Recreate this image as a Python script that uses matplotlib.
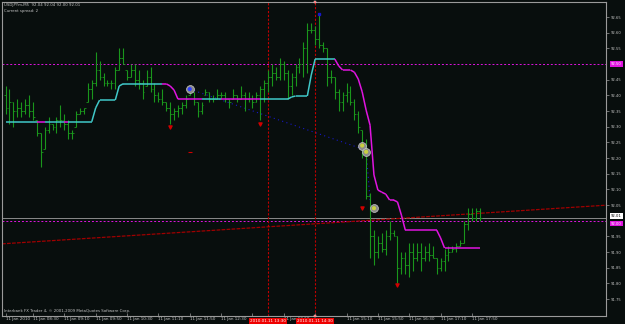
import numpy as np
import matplotlib
matplotlib.use("Agg")
import matplotlib.pyplot as plt
from matplotlib.collections import LineCollection
import matplotlib.transforms as mtransforms

# header / footer texts
symbol_line = "USDJPYm,M5  92.04 92.04 92.00 92.01"
spread_line = "Current spread: 2"
footer_line = "Interbank FX Trader 4, © 2001-2009 MetaQuotes Software Corp."

# M5 bars, 07:55 .. 18:00 (bar index 0..121)
highs = [92.43, 92.42, 92.38, 92.39, 92.38, 92.39, 92.40, 92.38, 92.32, 92.28,
         92.30, 92.33, 92.31, 92.33, 92.37, 92.34, 92.32, 92.29, 92.35, 92.36,
         92.36, 92.44, 92.45, 92.54, 92.51, 92.47, 92.45, 92.45, 92.49, 92.55,
         92.55, 92.48, 92.50, 92.50, 92.48, 92.45, 92.48, 92.49, 92.44, 92.41,
         92.42, 92.38, 92.38, 92.36, 92.37, 92.38, 92.40, 92.43, 92.41, 92.38,
         92.38, 92.42, 92.41, 92.40, 92.42, 92.41, 92.41, 92.39, 92.42, 92.40,
         92.43, 92.41, 92.41, 92.40, 92.41, 92.43, 92.45, 92.48, 92.50, 92.49,
         92.52, 92.51, 92.48, 92.47, 92.50, 92.52, 92.57, 92.63, 92.63, 92.62,
         92.66, 92.57, 92.55, 92.48, 92.46, 92.42, 92.41, 92.44, 92.43, 92.39,
         92.35, 92.29, 92.26, 92.09, 91.97, 91.95, 91.96, 91.97, 92.00, 91.97,
         91.95, 91.90, 91.90, 91.93, 91.93, 91.93, 91.93, 91.92, 91.93, 91.92,
         91.88, 91.88, 91.91, 91.92, 91.92, 91.93, 91.94, 92.00, 92.04, 92.04,
         92.04, 92.04]
lows = [92.34, 92.31, 92.30, 92.33, 92.33, 92.34, 92.33, 92.32, 92.27, 92.17,
        92.23, 92.28, 92.29, 92.28, 92.30, 92.29, 92.26, 92.26, 92.30, 92.34,
        92.34, 92.38, 92.39, 92.43, 92.45, 92.43, 92.43, 92.42, 92.42, 92.48,
        92.50, 92.45, 92.46, 92.43, 92.42, 92.39, 92.43, 92.41, 92.38, 92.38,
        92.37, 92.35, 92.31, 92.32, 92.33, 92.34, 92.36, 92.40, 92.37, 92.33,
        92.34, 92.40, 92.38, 92.38, 92.39, 92.39, 92.38, 92.36, 92.39, 92.38,
        92.39, 92.35, 92.38, 92.36, 92.38, 92.32, 92.38, 92.41, 92.43, 92.45,
        92.45, 92.45, 92.39, 92.40, 92.43, 92.47, 92.46, 92.47, 92.60, 92.56,
        92.55, 92.54, 92.43, 92.44, 92.39, 92.35, 92.35, 92.38, 92.37, 92.32,
        92.28, 92.20, 92.07, 91.88, 91.86, 91.88, 91.90, 91.89, 91.94, 91.95,
        91.80, 91.83, 91.83, 91.82, 91.84, 91.87, 91.84, 91.87, 91.87, 91.88,
        91.83, 91.84, 91.84, 91.87, 91.90, 91.90, 91.92, 91.93, 91.97, 92.00,
        92.00, 92.00]
closes = [92.36, 92.38, 92.35, 92.36, 92.35, 92.37, 92.35, 92.33, 92.28, 92.22,
          92.29, 92.31, 92.30, 92.32, 92.32, 92.31, 92.28, 92.28, 92.34, 92.35,
          92.36, 92.42, 92.44, 92.48, 92.46, 92.44, 92.44, 92.44, 92.48, 92.52,
          92.50, 92.46, 92.48, 92.45, 92.44, 92.41, 92.46, 92.42, 92.40, 92.39,
          92.38, 92.36, 92.34, 92.35, 92.36, 92.37, 92.39, 92.41, 92.38, 92.35,
          92.37, 92.41, 92.39, 92.39, 92.40, 92.40, 92.39, 92.38, 92.40, 92.39,
          92.40, 92.39, 92.39, 92.38, 92.40, 92.42, 92.44, 92.46, 92.47, 92.46,
          92.50, 92.47, 92.43, 92.46, 92.49, 92.50, 92.55, 92.61, 92.61, 92.58,
          92.56, 92.55, 92.46, 92.46, 92.41, 92.38, 92.40, 92.41, 92.38, 92.34,
          92.30, 92.22, 92.08, 91.95, 91.90, 91.93, 91.91, 91.95, 91.96, 91.95,
          91.85, 91.88, 91.86, 91.90, 91.88, 91.90, 91.88, 91.90, 91.89, 91.88,
          91.85, 91.87, 91.89, 91.90, 91.91, 91.92, 91.93, 91.99, 92.02, 92.01,
          92.03, 92.01]

# stepped trailing indicator and its direction (1 = up/cyan, -1 = down/magenta)
trail = ([92.316] * 23 + [92.36] + [92.385] * 5 + [92.43] + [92.437] * 12 +
         [92.43, 92.417] + [92.388] * 29 + [92.395] + [92.398] * 4 +
         [92.465] + [92.516] * 6 + [92.494] + [92.481] * 3 +
         [92.474, 92.452, 92.411, 92.353, 92.305, 92.146, 92.098, 92.091,
          92.085, 92.066, 92.066, 92.06, 92.018] +
         [91.97] * 9 + [91.945] + [91.913] * 10)
trail_dir = ([1] * 9 + [-1] * 2 + [1] * 5 + [-1] + [1] * 24 + [-1] * 10 +
             [1] * 5 + [-1] * 10 + [1] * 19 + [-1] * 37)

# objects drawn on the chart
trend_bars = [10, 150]
trend_prices = [91.935, 92.047]
blue_line_bars = [47, 92, 93]
blue_line_prices = [92.42, 92.225, 92.066]
signal_bars = [47, 91, 92, 94]
signal_prices = [92.42, 92.24, 92.22, 92.04]
signal_colors = ["#3040ff", "#c8d040", "#c8d040", "#c8d040"]
arrow_bars = [42, 65, 91, 100]
arrow_prices = [92.30, 92.31, 92.04, 91.795]
dash_bars = [47]
dash_prices = [92.22]

level_line = 92.50
bid_price = 92.01
ask_line = 92.00
vline_bars = [67, 79]
vline_labels = ["2010.01.11 13:30", "2010.01.11 14:30"]

price_ticks = [91.75, 91.80, 91.85, 91.90, 91.95, 92.05, 92.10, 92.15, 92.20,
               92.25, 92.30, 92.35, 92.40, 92.45, 92.55, 92.60, 92.65]
time_bars = [0, 7, 15, 23, 31, 39, 47, 55, 63, 71, 79, 87, 95, 103, 111, 119]
# labels at 13:10 and 14:30 sit fully under the red time boxes
time_labels = ["11 Jan 2010", "11 Jan 08:30", "11 Jan 09:10", "11 Jan 09:50",
               "11 Jan 10:30", "11 Jan 11:10", "11 Jan 11:50", "11 Jan 12:30",
               "", "11 Jan 13:50", "", "11 Jan 15:10",
               "11 Jan 15:50", "11 Jan 16:30", "11 Jan 17:10", "11 Jan 17:50"]

BG = "#080e0d"
GRID = "#9a9a9a"
TXT = "#c4c4c4"
BAR = "#1a961c"
CYAN = "#40c8c8"
MAG = "#e014e0"

W, H = 625, 324
fig = plt.figure(figsize=(W / 100, H / 100), dpi=100, facecolor=BG)
ax = fig.add_axes([2 / W, (H - 316) / H, 604 / W, 314 / H], facecolor=BG)
ax.set_xlim(-0.9, 153.2)
ax.set_ylim(91.696, 92.698)

n = len(highs)
idx = np.arange(n)
opens = [92.40] + [min(max(c, lo), hi) for c, lo, hi in zip(closes[:-1], lows[1:], highs[1:])]

# OHLC bars
ax.vlines(idx, lows, highs, color=BAR, lw=0.8, zorder=3)
ax.hlines(opens, idx - 0.45, idx, color=BAR, lw=0.6, zorder=3)
ax.hlines(closes, idx, idx + 0.45, color=BAR, lw=0.6, zorder=3)

# stepped indicator
pts = np.column_stack([idx, trail])
segs = np.stack([pts[:-1], pts[1:]], axis=1)
cols = [CYAN if d > 0 else MAG for d in trail_dir[1:]]
ax.add_collection(LineCollection(segs, colors=cols, linewidths=1.1, zorder=4))

# horizontal levels
ax.axhline(level_line, color=MAG, lw=0.7, ls=(0, (2, 2)), zorder=2)
ax.axhline(bid_price, color="#8a8a8a", lw=0.7, zorder=2)
ax.axhline(ask_line, color=MAG, lw=0.7, ls=(0, (2, 2)), zorder=2)

# trend line and blue dotted line
ax.axline((trend_bars[0], trend_prices[0]), (trend_bars[1], trend_prices[1]),
          color="#a00000", lw=0.9, ls=(0, (3, 1)), zorder=2)
ax.plot(blue_line_bars, blue_line_prices, color="#1818c8", lw=0.8,
        ls=(0, (1, 3)), zorder=2)
ax.plot([80], [92.66], marker="s", ms=1.5, color="#1818c8", ls="none", zorder=3)

# vertical lines
for b in vline_bars:
    ax.axvline(b, color="#c00000", lw=0.8, ls=(0, (2, 1.5)), zorder=2)

# signal circles
ax.scatter(signal_bars, signal_prices, s=32, facecolor="#8a8a8a",
           edgecolor="#c8c8c8", linewidths=0.5, zorder=6)
ax.scatter(signal_bars, signal_prices, s=4, c=signal_colors, zorder=7)
ax.scatter(arrow_bars, arrow_prices, s=5, marker="v", color="#d00000", zorder=5)
ax.scatter(dash_bars, dash_prices, s=8, marker="_", color="#d00000",
           linewidths=0.8, zorder=5)

# axes frame and ticks
for sp in ax.spines.values():
    sp.set_color(GRID)
    sp.set_linewidth(0.8)
ax.yaxis.tick_right()
ax.set_yticks(price_ticks)
ax.set_yticklabels([f"{p:.2f}" for p in price_ticks])
ax.tick_params(axis="y", colors=GRID, labelcolor=TXT, labelsize=2.7,
               length=2, width=0.5, pad=1.5, direction="out")
ax.set_xticks(time_bars)
ax.set_xticklabels(time_labels)
ax.tick_params(axis="x", colors=GRID, labelcolor=TXT, labelsize=3.0,
               length=2, width=0.5, pad=0.8, direction="in")
for lbl in ax.get_xticklabels():
    lbl.set_ha("left")

# price boxes on the right scale
yax = mtransforms.blended_transform_factory(ax.transAxes, ax.transData)
for val, fc, tc in [(level_line, MAG, "white"), (bid_price, "white", "black"),
                    (ask_line, MAG, "white")]:
    dy = -2 if val == ask_line else (1 if val == bid_price else 0)
    ax.annotate(f"{val:.2f}", xy=(1, val), xycoords=yax, xytext=(3.5, dy),
                textcoords="offset points", ha="left", va="center",
                fontsize=2.7, color=tc, annotation_clip=False, zorder=10,
                bbox=dict(boxstyle="square,pad=0.25", fc=fc, ec="none"))

# time boxes under the vertical lines
xax = mtransforms.blended_transform_factory(ax.transData, ax.transAxes)
for b, lab in zip(vline_bars, vline_labels):
    ax.annotate(lab, xy=(b, 0), xycoords=xax, xytext=(0, -3.4),
                textcoords="offset points", ha="center", va="center",
                fontsize=3.0, color="white", annotation_clip=False, zorder=10,
                bbox=dict(boxstyle="square,pad=0.25", fc="#ee0000", ec="none"))
# selection handles on the second line
ax.plot([vline_bars[1], vline_bars[1]], [0, 1], marker="s", ms=1.6,
        color="#ff4040", mec="white", mew=0.3, ls="none",
        transform=xax, clip_on=False, zorder=11)

fig.text(4 / W, 1 - 5 / H, symbol_line, fontsize=2.8, color=TXT, va="center")
fig.text(4 / W, 1 - 11 / H, spread_line, fontsize=2.8, color=TXT, va="center")
fig.text(4 / W, 1 - 311 / H, footer_line, fontsize=2.8, color=TXT, va="center")

fig.savefig("out.png", dpi=100, facecolor=BG)
